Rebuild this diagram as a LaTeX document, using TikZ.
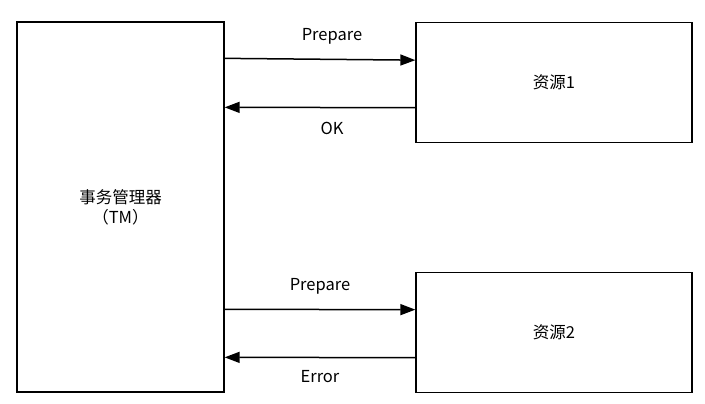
\documentclass[tikz,border=0pt]{standalone}
\usepackage{fontspec}
\setmainfont{Noto Sans CJK SC}
\usetikzlibrary{arrows.meta,calc}
\begin{document}
\begin{tikzpicture}[x=1pt,y=-1pt,
  box/.style={draw=black, line width=1.3pt, fill=white, inner sep=0pt, font=\fontsize{16.5}{20}\selectfont},
  msg/.style={line width=1.5pt, -{Triangle[length=15pt,width=11pt]}},
  lbl/.style={font=\fontsize{16.5}{18}\selectfont, inner sep=0pt}]
\useasboundingbox (0,0) rectangle (705,404);
\node[box, minimum width=207pt, minimum height=370pt, align=center] (tm) at (120.5,207) {事务管理器\\（TM）};
\node[box, minimum width=276pt, minimum height=120pt] (r1) at (554,82.3) {资源1};
\node[box, minimum width=276pt, minimum height=120pt] (r2) at (554,332.3) {资源2};
\draw[msg] ($(tm.north east)+(0,37)$) -- ($(r1.north west)+(0,38.5)$);
\draw[msg] ($(r1.north west)+(0,86)$) -- ($(tm.north east)+(0,86)$);
\draw[msg] ($(tm.north east)+(0,288)$) -- ($(r2.north west)+(0,38)$);
\draw[msg] ($(r2.north west)+(0,86)$) -- ($(tm.north east)+(0,336)$);
\node[lbl] (l1) at (332,36) {Prepare};
\node[lbl] (l2) at (332,128) {OK};
\node[lbl] (l3) at (320,286) {Prepare};
\node[lbl] (l4) at (320,377) {Error};
\end{tikzpicture}
\end{document}
